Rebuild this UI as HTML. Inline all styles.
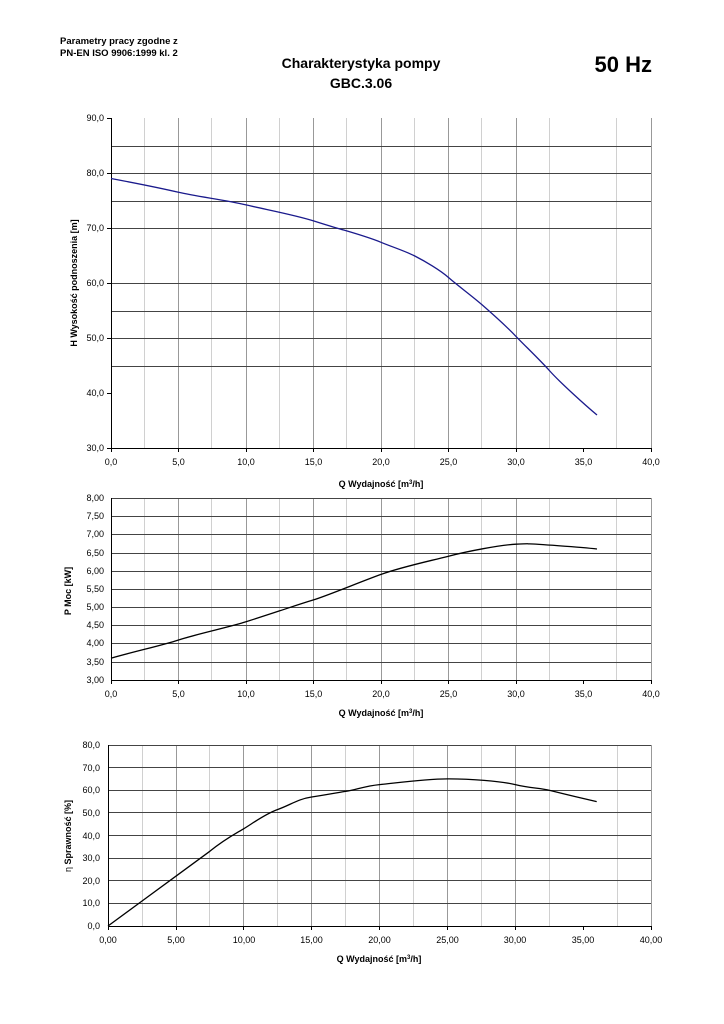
<!DOCTYPE html><html><head><style>body{margin:0;background:#fff}svg{display:block}text{font-family:"Liberation Sans",Arial,sans-serif;fill:#000}</style></head><body>
<svg width="724" height="1024" viewBox="0 0 724 1024" xmlns="http://www.w3.org/2000/svg">
<text x="60" y="44" font-size="9.5" font-weight="bold">Parametry pracy zgodne z</text>
<text x="60" y="56" font-size="9.5" font-weight="bold">PN-EN ISO 9906:1999 kl. 2</text>
<text x="361" y="68" font-size="14" font-weight="bold" text-anchor="middle">Charakterystyka pompy</text>
<text x="361" y="88" font-size="14" font-weight="bold" text-anchor="middle">GBC.3.06</text>
<text x="652" y="72" font-size="22" font-weight="bold" text-anchor="end">50 Hz</text>

<!-- Chart 1 -->
<g stroke-width="1">
<g stroke="#d0d0d0"><path d="M144.5 118V448M211.5 118V448M279.5 118V448M346.5 118V448M414.5 118V448M481.5 118V448M549.5 118V448M616.5 118V448"/></g>
<g stroke="#999"><path d="M178.5 118V448M246.5 118V448M313.5 118V448M381.5 118V448M448.5 118V448M516.5 118V448M651.5 118V448"/></g>
<g stroke="#444"><path d="M111 146.5H651M111 173.5H651M111 201.5H651M111 228.5H651M111 283.5H651M111 311.5H651M111 338.5H651M111 366.5H651"/></g>
<path d="M111.5 118V448.5H651" stroke="#000" fill="none"/>
<path d="M107 118.5H111M107 173.5H111M107 228.5H111M107 283.5H111M107 338.5H111M107 393.5H111M107 448.5H111M111.5 448V452M178.5 448V452M246.5 448V452M313.5 448V452M381.5 448V452M448.5 448V452M516.5 448V452M583.5 448V452M651.5 448V452" stroke="#000"/>
</g>
<path d="M111 178.5 C140 184 160 188 178.5 192.3 S225 200 246 204.9 S295 215 313.5 220.9 S330 226 340.5 229.1 S368 237 381 242.3 S405 251 414.8 256 S440 270 448.5 277.5 S472 296 482.3 305 S508 328 516 336.4 S540 360 549.8 371 S585 405 597 415" stroke="#1a1a8c" stroke-width="1.3" fill="none"/>
<g font-size="9" text-anchor="end"><text x="104" y="121">90,0</text><text x="104" y="176">80,0</text><text x="104" y="231">70,0</text><text x="104" y="286">60,0</text><text x="104" y="341">50,0</text><text x="104" y="396">40,0</text><text x="104" y="451">30,0</text></g>
<g font-size="9" text-anchor="middle"><text x="111" y="465">0,0</text><text x="178.5" y="465">5,0</text><text x="246" y="465">10,0</text><text x="313.5" y="465">15,0</text><text x="381" y="465">20,0</text><text x="448.5" y="465">25,0</text><text x="516" y="465">30,0</text><text x="583.5" y="465">35,0</text><text x="651" y="465">40,0</text></g>
<text x="381" y="487" font-size="9" font-weight="bold" text-anchor="middle">Q Wydajność [m<tspan font-size="6" dy="-3">3</tspan><tspan dy="3">/h]</tspan></text>
<text transform="translate(77 283) rotate(-90)" font-size="9" font-weight="bold" text-anchor="middle">H  Wysokość podnoszenia [m]</text>

<!-- Chart 2 -->
<g stroke-width="1">
<g stroke="#d0d0d0"><path d="M144.5 498V680M211.5 498V680M279.5 498V680M346.5 498V680M414.5 498V680M481.5 498V680M549.5 498V680M616.5 498V680"/></g>
<g stroke="#999"><path d="M178.5 498V680M246.5 498V680M313.5 498V680M381.5 498V680M448.5 498V680M516.5 498V680M651.5 498V680"/></g>
<g stroke="#444"><path d="M111 498.5H651M111 516.5H651M111 534.5H651M111 553.5H651M111 571.5H651M111 589.5H651M111 607.5H651M111 625.5H651M111 643.5H651M111 662.5H651"/></g>
<path d="M111.5 498V680.5H651" stroke="#000" fill="none"/>
<path d="M111.5 680V684M178.5 680V684M246.5 680V684M313.5 680V684M381.5 680V684M448.5 680V684M516.5 680V684M583.5 680V684M651.5 680V684" stroke="#000"/>
</g>
<path d="M111 658.2 C140 650 160 646 178.5 640 S230 627 246 621.8 S270 614 279.8 610.8 S300 604 313.5 599.9 S360 582 381 574.4 S430 561 448.5 556.2 S500 545 516 544.2 S525 543.8 529.5 543.9 S580 547 597 549" stroke="#000" stroke-width="1.3" fill="none"/>
<g font-size="9" text-anchor="end"><text x="104" y="501">8,00</text><text x="104" y="519">7,50</text><text x="104" y="537">7,00</text><text x="104" y="556">6,50</text><text x="104" y="574">6,00</text><text x="104" y="592">5,50</text><text x="104" y="610">5,00</text><text x="104" y="628">4,50</text><text x="104" y="646">4,00</text><text x="104" y="665">3,50</text><text x="104" y="683">3,00</text></g>
<g font-size="9" text-anchor="middle"><text x="111" y="697">0,0</text><text x="178.5" y="697">5,0</text><text x="246" y="697">10,0</text><text x="313.5" y="697">15,0</text><text x="381" y="697">20,0</text><text x="448.5" y="697">25,0</text><text x="516" y="697">30,0</text><text x="583.5" y="697">35,0</text><text x="651" y="697">40,0</text></g>
<text x="381" y="716" font-size="9" font-weight="bold" text-anchor="middle">Q Wydajność [m<tspan font-size="6" dy="-3">3</tspan><tspan dy="3">/h]</tspan></text>
<text transform="translate(71 591) rotate(-90)" font-size="9" font-weight="bold" text-anchor="middle">P  Moc [kW]</text>

<!-- Chart 3 -->
<g stroke-width="1">
<g stroke="#d0d0d0"><path d="M142.5 745V926M209.5 745V926M277.5 745V926M345.5 745V926M413.5 745V926M481.5 745V926M549.5 745V926M617.5 745V926"/></g>
<g stroke="#999"><path d="M176.5 745V926M243.5 745V926M311.5 745V926M379.5 745V926M447.5 745V926M515.5 745V926M651.5 745V926"/></g>
<g stroke="#444"><path d="M108 745.5H651M108 767.5H651M108 790.5H651M108 812.5H651M108 835.5H651M108 858.5H651M108 880.5H651M108 903.5H651"/></g>
<path d="M108.5 745V926.5H651" stroke="#000" fill="none"/>
<path d="M108.5 926V930M176.5 926V930M243.5 926V930M311.5 926V930M379.5 926V930M447.5 926V930M515.5 926V930M583.5 926V930M651.5 926V930" stroke="#000"/>
</g>
<path d="M108 926 L141.9 901.1 L175.9 876.2 L209.8 851.3 C225 839 235 834 243.8 828.7 S265 814 277.7 809.5 S298 799 311.6 797 S335 793 345.6 791.4 S365 786 379.5 784.6 S425 779 447.4 778.9 S500 781 515.3 784.6 S540 788 549.2 790.3 S585 799 596.7 801.6" stroke="#000" stroke-width="1.3" fill="none"/>
<g font-size="9" text-anchor="end"><text x="100" y="748">80,0</text><text x="100" y="771">70,0</text><text x="100" y="793">60,0</text><text x="100" y="816">50,0</text><text x="100" y="839">40,0</text><text x="100" y="861">30,0</text><text x="100" y="884">20,0</text><text x="100" y="906">10,0</text><text x="100" y="929">0,0</text></g>
<g font-size="9" text-anchor="middle"><text x="108" y="943">0,00</text><text x="176" y="943">5,00</text><text x="244" y="943">10,00</text><text x="311.5" y="943">15,00</text><text x="379.5" y="943">20,00</text><text x="447.5" y="943">25,00</text><text x="515" y="943">30,00</text><text x="583" y="943">35,00</text><text x="651" y="943">40,00</text></g>
<text x="379" y="962" font-size="9" font-weight="bold" text-anchor="middle">Q Wydajność [m<tspan font-size="6" dy="-3">3</tspan><tspan dy="3">/h]</tspan></text>
<text transform="translate(71 836) rotate(-90)" font-size="9" text-anchor="middle">η <tspan font-weight="bold">Sprawność [%]</tspan></text>
</svg>
</body></html>
